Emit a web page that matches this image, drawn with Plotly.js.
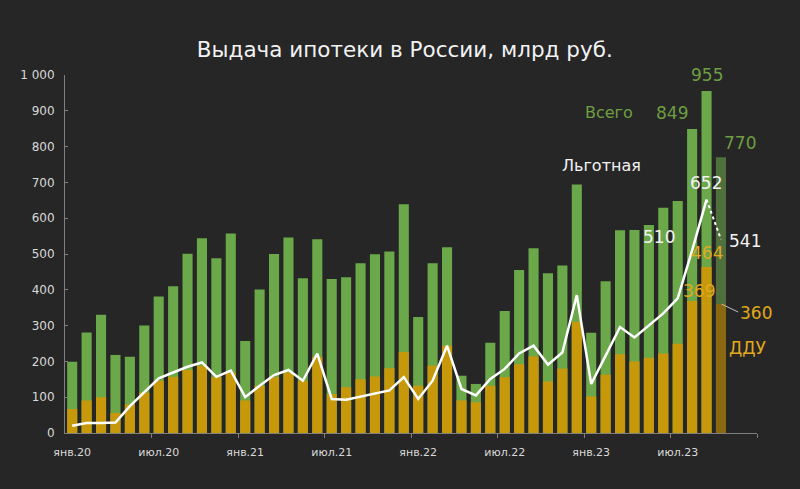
<!DOCTYPE html>
<html>
<head>
<meta charset="utf-8">
<script src="https://cdn.plot.ly/plotly-3.0.1.min.js"></script>
<style>
  html, body { margin: 0; padding: 0; background: #262626; }
  #chart { width: 800px; height: 489px; }
</style>
</head>
<body>
<div id="chart"></div>
<script>
// Months Jan 2020 – Dec 2023 (bars shown through Oct 2023)
const months = [
  "янв.20","фев.20","мар.20","апр.20","май.20","июн.20","июл.20","авг.20","сен.20","окт.20","ноя.20","дек.20",
  "янв.21","фев.21","мар.21","апр.21","май.21","июн.21","июл.21","авг.21","сен.21","окт.21","ноя.21","дек.21",
  "янв.22","фев.22","мар.22","апр.22","май.22","июн.22","июл.22","авг.22","сен.22","окт.22","ноя.22","дек.22",
  "янв.23","фев.23","мар.23","апр.23","май.23","июн.23","июл.23","авг.23","сен.23","окт.23","ноя.23","дек.23"
];
// Total issuance (Всего), bn RUB
const total = [
  199,281,330,218,213,300,381,410,501,544,488,557,
  257,401,500,546,432,541,430,435,474,499,507,639,
  324,474,519,160,137,252,341,455,516,446,468,694,
  280,424,566,567,581,629,648,849,955,770
];
// Equity participation agreements (ДДУ), bn RUB
const ddu = [
  67,91,100,56,80,113,146,157,176,188,156,169,
  91,132,156,169,146,213,109,128,150,158,181,226,
  132,188,244,91,86,132,156,192,214,144,180,311,
  102,163,220,200,210,222,249,369,464,360
];
// Preferential mortgages (Льготная), bn RUB
const lgot = [
  20,28,28,29,75,115,153,169,185,197,157,174,
  100,132,162,176,146,222,95,93,102,109,119,156,
  95,146,244,123,105,151,179,222,244,191,225,385,
  137,216,296,267,301,334,376,510,652,541
];
const tickMonths = ["янв.20","июл.20","янв.21","июл.21","янв.22","июл.22","янв.23","июл.23"];

const idx = total.map((_, i) => i);
const lastIdx = total.length - 1;
const greenCols = total.map((_, i) => i === lastIdx ? '#4f6f3c' : '#6aa84a');
const orangeCols = ddu.map((_, i) => i === lastIdx ? '#8a6812' : '#c8980b');

const traces = [
  { type: 'bar', x: idx, y: total, marker: { color: greenCols }, hoverinfo: 'y', name: 'Всего' },
  { type: 'bar', x: idx, y: ddu, marker: { color: orangeCols }, hoverinfo: 'y', name: 'ДДУ' },
  { type: 'scatter', mode: 'lines', x: idx.slice(0, lastIdx), y: lgot.slice(0, lastIdx),
    line: { color: '#ffffff', width: 2.5 }, name: 'Льготная' },
  { type: 'scatter', mode: 'lines', x: idx.slice(lastIdx - 1), y: lgot.slice(lastIdx - 1),
    line: { color: '#ffffff', width: 2, dash: 'dot' }, name: 'Льготная (оценка)' }
];

const GREEN_T = '#6e9e42';
const ORANGE_T = '#e2a91c';
const WHITE_T = '#f2f2f2';
const F = 'DejaVu Sans, Verdana, sans-serif';
function ann(text, x, y, color, size) {
  return { text: text, x: x, y: y, xref: 'x', yref: 'y', showarrow: false,
           font: { family: F, size: size || 17, color: color }, xanchor: 'center', yanchor: 'middle' };
}
const annotations = [
  ann('Всего', 37.2, 894, GREEN_T, 16),
  ann(String(total[43]), 41.6, 894, GREEN_T),
  ann(String(total[44]), 44.0, 1000, GREEN_T),
  ann(String(total[45]), 46.3, 811, GREEN_T),
  ann('Льготная', 36.7, 748, WHITE_T, 16),
  ann(String(lgot[44]), 43.95, 697, WHITE_T),
  ann(String(lgot[43]), 40.7, 547, WHITE_T),
  ann(String(lgot[45]), 46.65, 536, WHITE_T),
  ann(String(ddu[44]), 44.0, 503, ORANGE_T),
  ann(String(ddu[43]), 43.5, 397, ORANGE_T),
  ann(String(ddu[45]), 47.4, 335, ORANGE_T),
  ann('ДДУ', 46.9, 237, ORANGE_T)
];

const minorVals = [];
for (let v = 5.5; v <= 47.5; v += 6) minorVals.push(v);

const layout = {
  width: 800, height: 489,
  paper_bgcolor: '#262626', plot_bgcolor: '#262626',
  margin: { l: 65, r: 43, t: 75, b: 56 },
  barmode: 'overlay', bargap: 0.3,
  showlegend: false,
  separators: ', ',
  title: { text: 'Выдача ипотеки в России, млрд руб.', font: { family: F, size: 21.5, color: WHITE_T },
           x: 0.506, xanchor: 'center', y: 0.898, yanchor: 'middle', xref: 'container', yref: 'container' },
  xaxis: {
    range: [-0.5, 47.5], tickmode: 'array',
    tickvals: tickMonths.map(m => months.indexOf(m)), ticktext: tickMonths,
    ticks: '', showgrid: false, zeroline: false, ticklabelstandoff: 9,
    showline: true, linecolor: '#7f7f7f', linewidth: 1,
    tickfont: { family: F, size: 11, color: '#d9d9d9' },
    minor: { tickmode: 'array', tickvals: minorVals, ticks: 'outside', ticklen: 4, tickcolor: '#7f7f7f', showgrid: false }
  },
  yaxis: {
    range: [0, 1000], tickmode: 'linear', tick0: 0, dtick: 100, tickformat: ',d',
    ticks: 'inside', ticklen: 3, tickcolor: '#7f7f7f', ticklabelstandoff: 7,
    showgrid: false, zeroline: false, showline: true, linecolor: '#7f7f7f', linewidth: 1,
    tickfont: { family: F, size: 12, color: '#d9d9d9' }
  },
  shapes: [
    { type: 'line', xref: 'x', yref: 'y', x0: 45.04, y0: ddu[45], x1: 46.19, y1: 338,
      line: { color: '#bfbfbf', width: 1 } }
  ],
  annotations: annotations
};

Plotly.newPlot('chart', traces, layout, { displayModeBar: false, staticPlot: true });
</script>
</body>
</html>
